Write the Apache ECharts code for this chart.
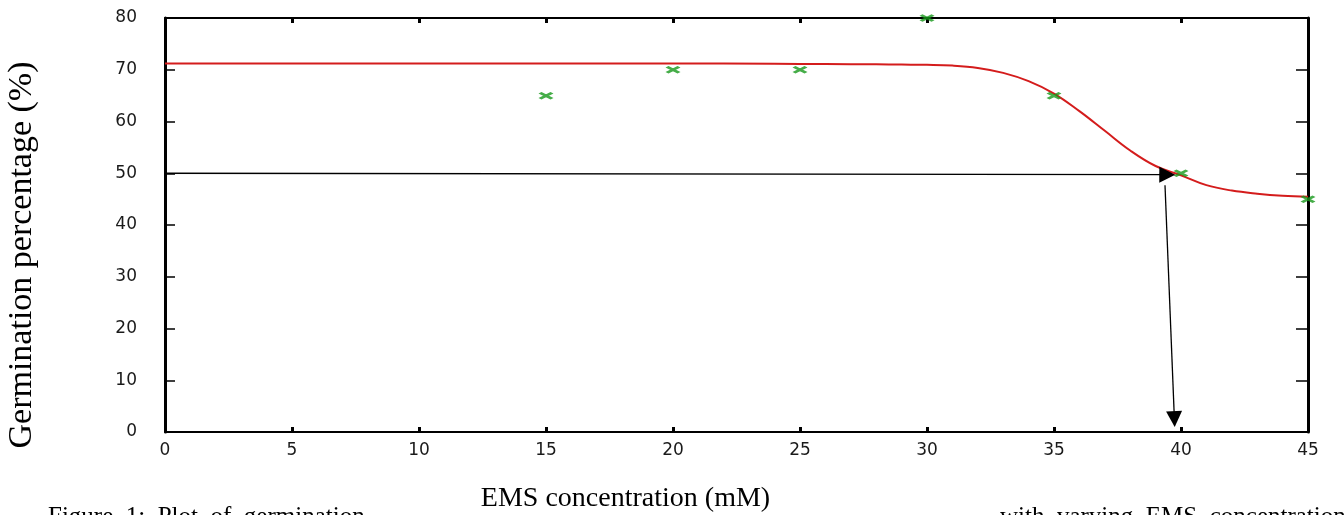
<!DOCTYPE html>
<html>
<head>
<meta charset="utf-8">
<script src="https://cdn.jsdelivr.net/npm/echarts@6/dist/echarts.min.js"></script>
<style>
html,body{margin:0;padding:0;background:#fff;}
#chart{width:1344px;height:515px;}
</style>
</head>
<body>
<div id="chart"></div>
<script>
// Observed data points (EMS concentration mM, germination %)
const pointsX = [15, 20, 25, 30, 35, 40, 45];
const pointsY = [65, 70, 70, 80, 65, 50, 45];

// Fitted curve
const curveX = [0, 5, 10, 15, 20, 24, 26, 28, 29, 30, 31, 32, 33, 34, 35, 36, 37, 38, 39, 40, 41, 42, 43, 44, 45];
const curveY = [71.2, 71.2, 71.2, 71.2, 71.2, 71.15, 71.1, 71.05, 71.0, 70.95, 70.8, 70.35, 69.4, 67.8, 65.4, 62.0, 58.2, 54.4, 51.4, 49.6, 47.7, 46.65, 46.05, 45.65, 45.45];

// Annotation arrows (axis units): LD50 read-off
const hArrowFrom = [0, 50];
const hArrowTo = [39.46, 49.72];
const vArrowFrom = [39.37, 47.7];
const vArrowTo = [39.74, 2.5];

const xTicks = [0, 5, 10, 15, 20, 25, 30, 35, 40, 45];
const yTicks = [0, 10, 20, 30, 40, 50, 60, 70, 80];

const xTitle = 'EMS concentration (mM)';
const yTitle = 'Germination percentage (%)';
const captionLeft = 'Figure  1:  Plot  of  germination';
const captionRight = 'with  varying  EMS  concentration';

const chart = echarts.init(document.getElementById('chart'), null, {renderer: 'canvas'});

const curveData = curveX.map((x, i) => [x, curveY[i]]);
const pointData = pointsX.map((x, i) => [x, pointsY[i]]);

const labelFont = {fontFamily: 'DejaVu Sans', fontSize: 17, color: '#1a1a1a'};

const option = {
  backgroundColor: '#ffffff',
  animation: false,
  grid: {left: 165, right: 36, top: 18, bottom: 83, containLabel: false, outerBoundsMode: 'none'},
  xAxis: [
    {
      type: 'value', min: 0, max: 45, interval: 5, position: 'bottom',
      axisLine: {show: true, onZero: false, lineStyle: {color: '#000', width: 2}},
      axisTick: {show: true, inside: true, length: 5, lineStyle: {color: '#000', width: 3}},
      axisLabel: Object.assign({margin: 10, formatter: v => xTicks.includes(v) ? String(v) : ''}, labelFont),
      splitLine: {show: false},
      name: xTitle, nameLocation: 'middle', nameGap: 53,
      nameTextStyle: {fontFamily: 'Liberation Serif', fontSize: 28, color: '#000', padding: [0, 222, 0, 0]}
    },
    {
      type: 'value', min: 0, max: 45, interval: 5, position: 'top',
      axisLine: {show: true, onZero: false, lineStyle: {color: '#000', width: 2}},
      axisTick: {show: true, inside: true, length: 5, lineStyle: {color: '#000', width: 3}},
      axisLabel: {show: false}, splitLine: {show: false}
    }
  ],
  yAxis: [
    {
      type: 'value', min: 0, max: 80, interval: 10, position: 'left',
      axisLine: {show: true, onZero: false, lineStyle: {color: '#000', width: 3}},
      axisTick: {show: true, inside: true, length: 10, lineStyle: {color: '#000', width: 1.5}},
      axisLabel: Object.assign({margin: 28, formatter: v => yTicks.includes(v) ? String(v) : ''}, labelFont),
      splitLine: {show: false},
      name: yTitle, nameLocation: 'middle', nameGap: 126, nameRotate: 90,
      nameTextStyle: {fontFamily: 'Liberation Serif', fontSize: 34, color: '#000', padding: [0, 60, 0, 0]}
    },
    {
      type: 'value', min: 0, max: 80, interval: 10, position: 'right',
      axisLine: {show: true, onZero: false, lineStyle: {color: '#000', width: 3}},
      axisTick: {show: true, inside: true, length: 12, lineStyle: {color: '#000', width: 1.5}},
      axisLabel: {show: false}, splitLine: {show: false}
    }
  ],
  graphic: [
    {type: 'text', left: 48, top: 505, silent: true,
     style: {text: captionLeft, fontFamily: 'Liberation Serif', fontSize: 25, fill: '#000'}},
    {type: 'text', left: 1000, top: 505, silent: true,
     style: {text: captionRight, fontFamily: 'Liberation Serif', fontSize: 25, fill: '#000'}}
  ],
  series: [
    {
      name: 'Fit', type: 'line', data: curveData, showSymbol: false,
      smooth: 0.4, clip: false,
      lineStyle: {color: '#d41c1c', width: 2},
      z: 2
    },
    {
      name: 'Observed', type: 'scatter', data: pointData, clip: false,
      symbol: 'path://M0,0L12,6M12,0L0,6', symbolSize: [12, 6],
      itemStyle: {color: 'rgba(0,0,0,0)', borderColor: '#17981a', borderWidth: 3},
      z: 3,
      markLine: {
        silent: true, symbol: ['none', 'triangle'], symbolSize: 16,
        lineStyle: {color: '#000', width: 1.3, type: 'solid'},
        itemStyle: {color: '#000'},
        label: {show: false},
        data: [
          [{coord: hArrowFrom}, {coord: hArrowTo}],
          [{coord: vArrowFrom}, {coord: vArrowTo}]
        ]
      }
    }
  ]
};
chart.setOption(option);
</script>
</body>
</html>
